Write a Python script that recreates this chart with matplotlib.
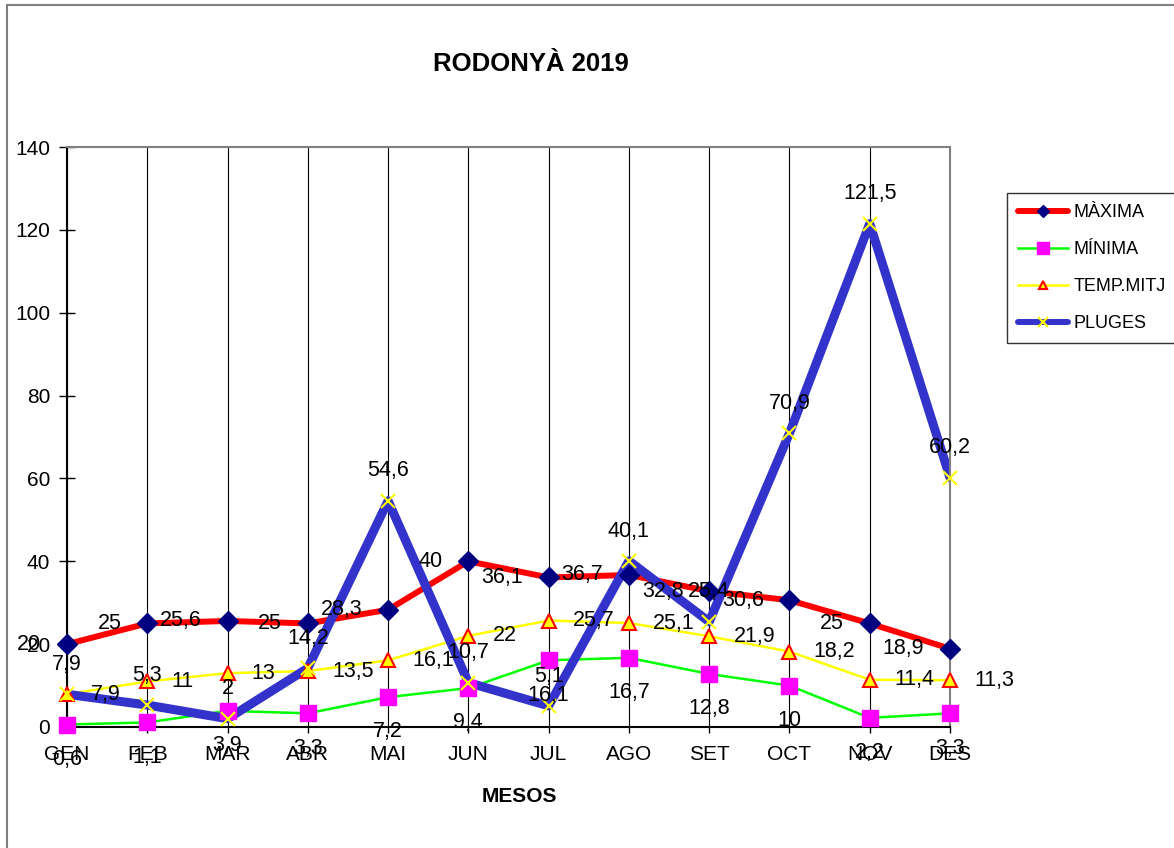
import matplotlib
matplotlib.use("Agg")
import matplotlib.pyplot as plt
from matplotlib.lines import Line2D
from matplotlib.patches import Rectangle

plt.rcParams['font.family'] = ['Liberation Sans', 'DejaVu Sans']

months = ["GEN", "FEB", "MAR", "ABR", "MAI", "JUN", "JUL", "AGO", "SET", "OCT", "NOV", "DES"]
maxima = [20, 25, 25.6, 25, 28.3, 40, 36.1, 36.7, 32.8, 30.6, 25, 18.9]
minima = [0.6, 1.1, 3.9, 3.3, 7.2, 9.4, 16.1, 16.7, 12.8, 10, 2.2, 3.3]
temp_mitj = [7.9, 11, 13, 13.5, 16.1, 22, 25.7, 25.1, 21.9, 18.2, 11.4, 11.3]
pluges = [7.9, 5.3, 2, 14.2, 54.6, 10.7, 5.1, 40.1, 25.4, 70.9, 121.5, 60.2]
yticks = [0, 20, 40, 60, 80, 100, 120, 140]

W, H = 1174, 848
fig = plt.figure(figsize=(W / 100, H / 100), dpi=100)
fig.patch.set_facecolor("white")

# outer chart border
fig.add_artist(Rectangle((7 / W, -0.05), 1.2, 1 - 5 / H + 0.05, transform=fig.transFigure,
                         fill=False, edgecolor="#808080", linewidth=1.5, clip_on=False))

ax = fig.add_axes([67 / W, 1 - 727 / H, (950 - 67) / W, (727 - 147) / H])
x = list(range(len(months)))

ax.set_xlim(0, 11)
ax.set_ylim(0, 140)
ax.set_xticks(x)
ax.set_xticklabels(months, fontsize=15)
ax.set_yticks(yticks)
ax.set_yticklabels([str(v) for v in yticks], fontsize=15)
ax.tick_params(axis="y", direction="inout", length=12, width=1, pad=6)
ax.tick_params(axis="x", direction="out", length=4, width=1, pad=9)

for s in ["top", "right"]:
    ax.spines[s].set_color("#808080")
    ax.spines[s].set_linewidth(1.5)
for s in ["left", "bottom"]:
    ax.spines[s].set_color("black")
    ax.spines[s].set_linewidth(1.5)

for xi in x:
    ax.axvline(xi, color="black", linewidth=0.8, zorder=1)

series = [
    (maxima, "MÀXIMA", "#FF0000", 4.3, "D", 10, "#000080", "#000080", 1),
    (minima, "MÍNIMA", "#00FF00", 1.8, "s", 11, "#FF00FF", "#FF00FF", 1),
    (temp_mitj, "TEMP.MITJ", "#FFFF00", 1.8, "^", 10, "#FFFF00", "#FF0000", 1.5),
    (pluges, "PLUGES", "#3333CC", 6.5, "x", 10, "#FFFF00", "#FFFF00", 1.5),
]

for i, (vals, lab, col, lw, mk, ms, mfc, mec, mew) in enumerate(series):
    ax.plot(x, vals, color=col, linewidth=lw, zorder=2 + i * 0.1, solid_capstyle="round")
for i, (vals, lab, col, lw, mk, ms, mfc, mec, mew) in enumerate(series):
    ax.plot(x, vals, linestyle="none", marker=mk, markersize=ms, markerfacecolor=mfc,
            markeredgecolor=mec, markeredgewidth=mew, zorder=3 + i * 0.1, clip_on=False)

def fmt(v):
    return f"{v:g}".replace(".", ",")

lab_fs = 15.5
for xi, v in zip(x, maxima):
    ax.annotate(fmt(v), (xi, v), xytext=(-18.5, 0), textcoords="offset points",
                ha="right", va="center", fontsize=lab_fs, zorder=6, annotation_clip=False)
for xi, v in zip(x, minima):
    ax.annotate(fmt(v), (xi, v), xytext=(0, -25), textcoords="offset points",
                ha="center", va="center", fontsize=lab_fs, zorder=6, annotation_clip=False)
for xi, v in zip(x, temp_mitj):
    ax.annotate(fmt(v), (xi, v), xytext=(17.5, 0), textcoords="offset points",
                ha="left", va="center", fontsize=lab_fs, zorder=6, annotation_clip=False)
for xi, v in zip(x, pluges):
    ax.annotate(fmt(v), (xi, v), xytext=(0, 21.5), textcoords="offset points",
                ha="center", va="center", fontsize=lab_fs, zorder=6, annotation_clip=False)

fig.text(531 / W, 1 - 64 / H, "RODONYÀ 2019", ha="center", va="center",
         fontsize=18.5, fontweight="bold")
fig.text(519 / W, 1 - 797 / H, "MESOS", ha="center", va="center",
         fontsize=15, fontweight="bold")

handles = [
    Line2D([], [], color="#FF0000", linewidth=4.3, marker="D", markersize=6,
           markerfacecolor="#000080", markeredgecolor="#000080", solid_capstyle="round"),
    Line2D([], [], color="#00FF00", linewidth=1.8, marker="s", markersize=8,
           markerfacecolor="#FF00FF", markeredgecolor="#FF00FF"),
    Line2D([], [], color="#FFFF00", linewidth=1.8, marker="^", markersize=6,
           markerfacecolor="#FFFF00", markeredgecolor="#FF0000", markeredgewidth=1.5),
    Line2D([], [], color="#3333CC", linewidth=4.3, marker="x", markersize=7,
           markeredgecolor="#FFFF00", markeredgewidth=1.5, solid_capstyle="round"),
]
labels = [s[1] for s in series]
leg = fig.legend(handles, labels, loc="upper left", bbox_to_anchor=(1007 / W, 1 - 193 / H),
                 bbox_transform=fig.transFigure, fontsize=13, frameon=True, fancybox=False,
                 handlelength=2.8, handletextpad=0.3, labelspacing=1.12, borderpad=0.6,
                 borderaxespad=0, edgecolor="black")
leg.get_frame().set_linewidth(1.0)

fig.savefig("out.png", dpi=100)
